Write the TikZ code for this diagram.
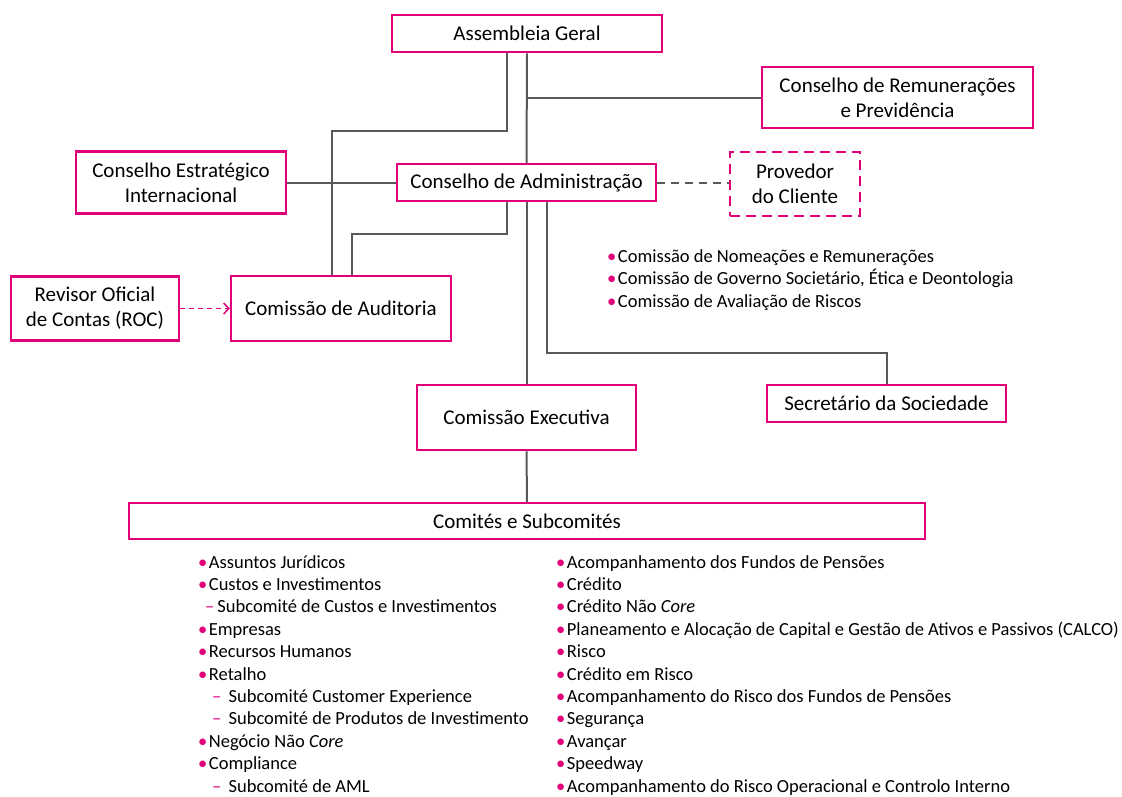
\documentclass[tikz,border=0pt]{standalone}
\usepackage{fontspec}
\setmainfont{Carlito}
\usetikzlibrary{arrows.meta,positioning,calc}
\definecolor{cgdpink}{HTML}{E0007A}
\definecolor{linkgray}{HTML}{595959}
\newcommand{\bul}{{\color{cgdpink}\textbullet}\hspace{1.5pt}}
\newcommand{\subit}[1][7pt]{\hspace*{#1}{\color{cgdpink}--}\hspace{3pt}}

\begin{document}
\begin{tikzpicture}[x=1pt,y=-1pt,
 box/.style={draw=cgdpink,line width=2.5pt,fill=white,align=center,inner sep=0pt,font=\fontsize{21}{25}\selectfont},
 link/.style={draw=linkgray,line width=2pt},
 item/.style={anchor=base west,inner sep=0pt,font=\fontsize{18.5}{22}\selectfont}]
 \fill[white] (0,0) rectangle (1122,796);
 \useasboundingbox (0,0) rectangle (1122,796);
 % boxes
 \node[box,minimum width=270pt,minimum height=37pt] (ag) at (527,33.5) {Assembleia Geral};
 \node[box,minimum width=271pt,minimum height=61pt] (crp) at (897.5,97.5) {Conselho de Remunerações\\e Previdência};
 \node[box,minimum width=210pt,minimum height=62pt] (cei) at (181,182.5) {Conselho Estratégico\\Internacional};
 \node[box,minimum width=259pt,minimum height=37pt] (cad) at (526.5,182.5) {Conselho de Administração};
 \node[box,dash pattern=on 10pt off 6pt,minimum width=130pt,minimum height=64pt] (prov) at (795,184) {Provedor\\do Cliente};
 \node[box,minimum width=168pt,minimum height=64pt] (roc) at (95,308.5) {Revisor Oficial\\de Contas (ROC)};
 \node[box,minimum width=220pt,minimum height=65pt] (caud) at (341,308.5) {Comissão de Auditoria};
 \node[box,minimum width=219pt,minimum height=65pt] (cexe) at (526.5,417.5) {Comissão Executiva};
 \node[box,minimum width=239pt,minimum height=37pt] (sec) at (886.5,403.5) {Secretário da Sociedade};
 \node[box,minimum width=796pt,minimum height=36pt] (comit) at (527,521) {Comités e Subcomités};
 % connectors
 \draw[link] (ag.south) -- (cad.north);
 \draw[link] ([xshift=-20pt]ag.south) -- ++(0,78) -| ([xshift=-9pt]caud.north);
 \draw[link] (crp.west) -- (crp.west -| ag.south);
 \draw[link] (cei.east) -- (cei.east -| cad.west);
 \draw[link,dash pattern=on 8pt off 6pt] (cad.east) -- (cad.east -| prov.west);
 \draw[link] ([xshift=-20pt]cad.south) -- ++(0,32) -| ([xshift=11pt]caud.north);
 \draw[link] (cad.south) -- (cexe.north);
 \draw[link] ([xshift=20pt]cad.south) -- ++(0,151) -| (sec.north);
 \draw[link] (cexe.south) -- (comit.north);
 \draw[cgdpink,line width=1.5pt,dash pattern=on 5pt off 4pt,-{Straight Barb[length=5pt,width=11pt]}] (roc.east) -- (roc.east -| caud.west);
 % board committees
 \foreach \txt [count=\i from 0] in {Comissão de Nomeações e Remunerações,{Comissão de Governo Societário, Ética e Deontologia},Comissão de Avaliação de Riscos}
  \node[item] (bc\i) at (607,{262+22.5*\i}) {\bul\txt};
 % committees, left column
 \foreach \txt [count=\i from 0] in {\bul Assuntos Jurídicos,\bul Custos e Investimentos,\subit Subcomité de Custos e Investimentos,\bul Empresas,\bul Recursos Humanos,\bul Retalho,\subit[14pt] Subcomité Customer Experience,\subit[14pt] Subcomité de Produtos de Investimento,\bul Negócio Não \textit{Core},\bul Compliance,\subit[14pt] Subcomité de AML}
  \node[item] (cl\i) at (198,{568+22.4*\i}) {\txt};
 % committees, right column
 \foreach \txt [count=\i from 0] in {Acompanhamento dos Fundos de Pensões,Crédito,Crédito Não \textit{Core},Planeamento e Alocação de Capital e Gestão de Ativos e Passivos (CALCO),Risco,Crédito em Risco,Acompanhamento do Risco dos Fundos de Pensões,Segurança,Avançar,Speedway,Acompanhamento do Risco Operacional e Controlo Interno}
  \node[item] (cr\i) at (556,{568+22.4*\i}) {\bul\txt};
\end{tikzpicture}
\end{document}
